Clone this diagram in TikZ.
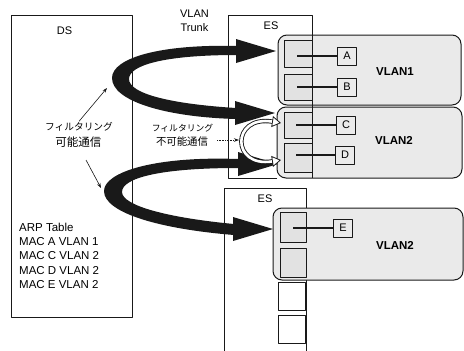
\documentclass[tikz,border=0pt]{standalone}
\usepackage{fontspec}
\setmainfont{Liberation Sans}
\newfontfamily\jpfont{Noto Sans CJK JP}
\usepackage{tikz}
\usetikzlibrary{arrows.meta,positioning}
\definecolor{ink}{RGB}{25,25,25}
\definecolor{stipple}{RGB}{234,234,234}
\definecolor{portgray}{RGB}{226,226,226}

\tikzset{
  box/.style={draw=ink, line width=0.8pt},
  vlanbox/.style={draw=ink, line width=1pt, fill=stipple, rounded corners=9pt},
  port/.style={draw=ink, line width=0.8pt, fill=portgray},
  host/.style={draw=ink, line width=1pt, fill=white!92!black, minimum width=19pt,
    minimum height=18pt, inner sep=0pt, font=\fontsize{11}{13}\selectfont},
  link/.style={ink, line width=1.1pt},
  lbl/.style={inner sep=0pt, font=\fontsize{11}{14.5}\selectfont},
  vlanlbl/.style={inner sep=0pt, font=\fontsize{11.5}{14}\selectfont\bfseries},
  pointer/.style={ink, line width=0.6pt, -{Stealth[length=5pt,width=3.5pt]}},
  hollowtip/.tip={Triangle[open, fill=white, length=9pt, width=11pt, line width=0.8pt]},
}

\begin{document}
\begin{tikzpicture}[x=1pt, y=-1pt, line join=round]
  \useasboundingbox (0,0) rectangle (464,351);

  % distribution switch
  \draw[box] (11,15) rectangle (132,317);
  \node[lbl] (ds) at (64.5,30.5) {DS};
  \node[lbl, align=left, anchor=north west, font=\fontsize{11.5}{14.2}\selectfont] (arp) at (19,223)
    {ARP Table\\MAC A VLAN 1\\MAC C VLAN 2\\MAC D VLAN 2\\MAC E VLAN 2};
  \node[lbl, align=center] (trunk) at (194.5,20.8) {VLAN\\Trunk};

  % upper edge switch
  \draw[vlanbox] (278,35) rectangle (461,105);
  \draw[vlanbox] (277,107) rectangle (462,178);
  \draw[box] (277,178) -- (228,178) -- (228,15) -- (312,15) -- (312,178);
  \node[lbl] (es1) at (271,25.5) {ES};
  \foreach \y/\h in {40/27, 74/26, 112/26, 143/29}
    \draw[port] (284,\y) rectangle ++(28,\h);
  \node[vlanlbl] (vlan1) at (395,72) {VLAN1};
  \node[vlanlbl] (vlan2a) at (394,140) {VLAN2};

  % lower edge switch
  \draw[box] (224,351) -- (224,188) -- (306,188) -- (306,351);
  \node[lbl] (es2) at (265,198.5) {ES};
  \draw[vlanbox] (273,208) rectangle (463,280);
  \foreach \y/\h in {212/30, 248/29}
    \draw[port] (280,\y) rectangle ++(26,\h);
  \foreach \y in {282,315}
    \draw[box, fill=white] (278,\y) rectangle ++(27,28);
  \node[vlanlbl] (vlan2b) at (395,245) {VLAN2};

  % hosts
  \node[host] (hA) at (347,56) {A};
  \node[host] (hB) at (347,87) {B};
  \node[host] (hC) at (346,125) {C};
  \node[host] (hD) at (345,155) {D};
  \node[host] (hE) at (343,228) {E};
  \coordinate (pA) at (297,56);
  \coordinate (pB) at (297,87);
  \coordinate (pC) at (296,125);
  \coordinate (pD) at (296,155);
  \coordinate (pE) at (293,228);
  \foreach \P in {A,B,C,D,E} {\draw[link] (p\P) -- (h\P);}

  % forwarded traffic through the DS
  \coordinate (t1) at (276,51);
  \coordinate (t2) at (275,113);
  \coordinate (t3) at (278,164);
  \coordinate (t4) at (273,229);
  \fill[ink] (237,46) .. controls (160,44) and (112,58) .. (112,78)
    .. controls (112,101) and (165,117) .. (236,119)
    -- (236,108) .. controls (172,104) and (129,94) .. (129,79)
    .. controls (129,65) and (165,55) .. (237,55) -- cycle;
  \fill[ink] (238,159) .. controls (155,156) and (104,172) .. (104,191)
    .. controls (104,213) and (160,229) .. (234,235)
    -- (234,224) .. controls (170,218) and (122,206) .. (122,192)
    .. controls (122,178) and (160,168) .. (238,168) -- cycle;
  \foreach \T in {t1,t2,t3,t4}
    \fill[ink] (\T) -- ++(-40,-12) -- ++(0,24) -- cycle;

  % traffic inside the ES
  \coordinate (cIn) at (281,123);
  \coordinate (dIn) at (281,160);
  \draw[ink, line width=0.9pt, double=white, double distance=2.6pt, {hollowtip}-{hollowtip}]
    (cIn) .. controls (231,115) and (231,168) .. (dIn);

  % labels
  \node[inner sep=1pt, font=\jpfont\fontsize{9.7}{12}\selectfont] (okkata) at (79,127) {フィルタリング};
  \node[inner sep=1pt, font=\jpfont\fontsize{11.5}{13}\selectfont] (okkanji) at (78.5,142) {可能通信};
  \coordinate (okup) at (107,88);
  \coordinate (okfrom) at (86,160);
  \coordinate (okdown) at (101,188);
  \draw[pointer] (okkata.north) -- (okup);
  \draw[pointer] (okfrom) -- (okdown);

  \node[inner sep=1pt, font=\jpfont\fontsize{8.8}{11}\selectfont] (ngkata) at (182.5,128) {フィルタリング};
  \node[inner sep=1pt, font=\jpfont\fontsize{10.4}{12}\selectfont] (ngkanji) at (182,142) {不可能通信};
  \coordinate (ngfrom) at (217,140);
  \coordinate (ngto) at (239,140);
  \draw[pointer, densely dotted] (ngfrom) -- (ngto);
\end{tikzpicture}
\end{document}
